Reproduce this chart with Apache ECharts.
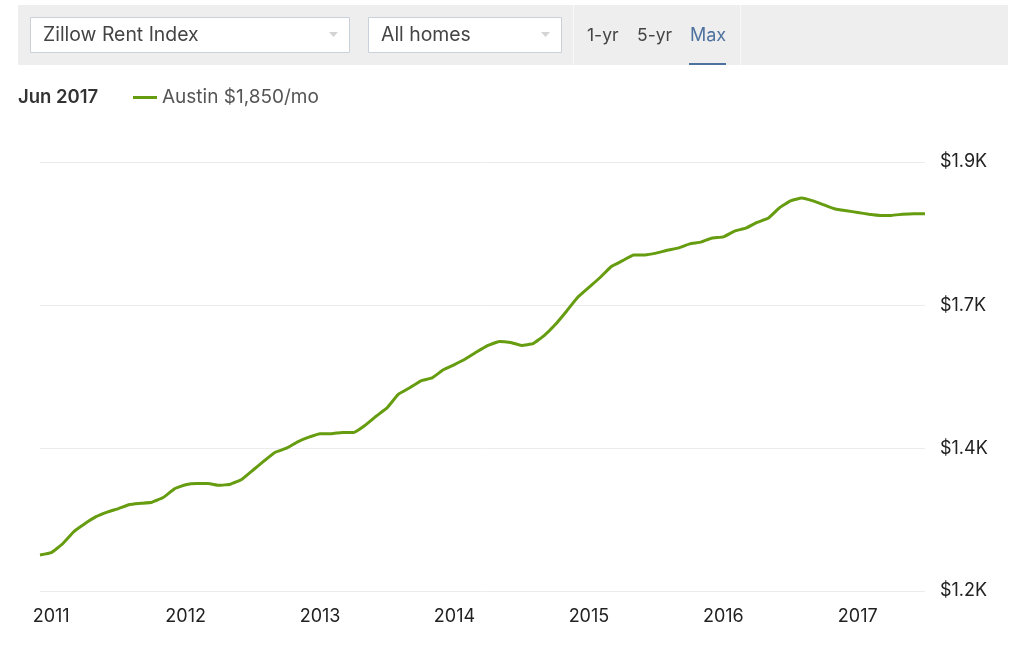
<!DOCTYPE html>
<html>
<head>
<meta charset="utf-8">
<title>Zillow Rent Index - Austin</title>
<script src="https://cdn.jsdelivr.net/npm/echarts@6/dist/echarts.min.js"></script>
<style>
    html, body { margin: 0; padding: 0; background: #fff; }
    #chart { width: 1024px; height: 652px; }
</style>
</head>
<body>
<div id="chart"></div>
<script>
// month-end dates, Nov 2010 .. Jun 2017
var months = [
    '2010-11', '2010-12',
    '2011-01', '2011-02', '2011-03', '2011-04', '2011-05', '2011-06', '2011-07', '2011-08', '2011-09', '2011-10', '2011-11', '2011-12',
    '2012-01', '2012-02', '2012-03', '2012-04', '2012-05', '2012-06', '2012-07', '2012-08', '2012-09', '2012-10', '2012-11', '2012-12',
    '2013-01', '2013-02', '2013-03', '2013-04', '2013-05', '2013-06', '2013-07', '2013-08', '2013-09', '2013-10', '2013-11', '2013-12',
    '2014-01', '2014-02', '2014-03', '2014-04', '2014-05', '2014-06', '2014-07', '2014-08', '2014-09', '2014-10', '2014-11', '2014-12',
    '2015-01', '2015-02', '2015-03', '2015-04', '2015-05', '2015-06', '2015-07', '2015-08', '2015-09', '2015-10', '2015-11', '2015-12',
    '2016-01', '2016-02', '2016-03', '2016-04', '2016-05', '2016-06', '2016-07', '2016-08', '2016-09', '2016-10', '2016-11', '2016-12',
    '2017-01', '2017-02', '2017-03', '2017-04', '2017-05', '2017-06'
];

// rent, $/mo
var austinRent = [
    1262, 1266,
    1281, 1302, 1316, 1328, 1336, 1342, 1349, 1351, 1353, 1361, 1376, 1383,
    1385, 1385, 1382, 1384, 1392, 1408, 1424, 1439, 1446, 1457, 1465, 1471,
    1471, 1473, 1473, 1485, 1501, 1516, 1539, 1550, 1562, 1567, 1581, 1590,
    1600, 1612, 1623, 1630, 1628, 1623, 1626, 1640, 1659, 1682, 1706, 1723,
    1740, 1759, 1769, 1779, 1779, 1782, 1787, 1791, 1798, 1801, 1808, 1810,
    1820, 1825, 1835, 1842, 1860, 1872, 1877, 1872, 1865, 1858, 1855, 1852,
    1849, 1847, 1847, 1849, 1850, 1850
];

var yearLabels = {
    '2010-12': '2011', '2011-12': '2012', '2012-12': '2013', '2013-12': '2014',
    '2014-12': '2015', '2015-12': '2016', '2016-12': '2017'
};

// the site rounds its tick labels to one decimal, so the steps are not round
var yTicks = [1200, 1446, 1692, 1939];

var seriesName = 'Austin';
var currentMonth = 'Jun 2017';
var metricLabel = 'Zillow Rent Index';
var homesLabel = 'All homes';
var rangeLabels = ['1-yr', '5-yr', 'Max'];

var FONT = 'Inter, sans-serif';
var GREEN = '#669c10';
var BLUE = '#4d729f';

function selectBox(x, w, label) {
    return [
        { type: 'rect', shape: { x: x + 0.5, y: 17.5, width: w, height: 35 },
          style: { fill: '#fff', stroke: '#c9d2da', lineWidth: 1 } },
        { type: 'text', x: x + 13, y: 35,
          style: { text: label, fill: '#444', font: '19.4px ' + FONT, textVerticalAlign: 'middle' } },
        { type: 'polygon', shape: { points: [[x + w - 20, 32], [x + w - 11, 32], [x + w - 15.5, 37]] },
          style: { fill: '#d4d4d4' } }
    ];
}

var chart = echarts.init(document.getElementById('chart'));

var toolbar = [
    { type: 'rect', shape: { x: 18, y: 5, width: 990, height: 60 }, style: { fill: '#eeeeee' } },
    { type: 'rect', shape: { x: 573, y: 5, width: 1, height: 60 }, style: { fill: '#f8f8f8' } },
    { type: 'rect', shape: { x: 740, y: 5, width: 1, height: 60 }, style: { fill: '#f8f8f8' } }
].concat(selectBox(30, 319, metricLabel), selectBox(368, 193, homesLabel), [
    { type: 'text', x: 587, y: 36, style: { text: rangeLabels[0], fill: '#444', font: '17.5px ' + FONT, textVerticalAlign: 'middle' } },
    { type: 'text', x: 637, y: 36, style: { text: rangeLabels[1], fill: '#444', font: '17.5px ' + FONT, textVerticalAlign: 'middle' } },
    { type: 'text', x: 690, y: 36, style: { text: rangeLabels[2], fill: BLUE, font: '18px ' + FONT, textVerticalAlign: 'middle' } },
    { type: 'rect', shape: { x: 689, y: 63, width: 37, height: 2 }, style: { fill: BLUE } }
]);

chart.setOption({
    animation: false,
    backgroundColor: '#fff',
    title: {
        text: currentMonth,
        left: 18, top: 88, padding: 0,
        textStyle: { fontFamily: FONT, fontSize: 18.5, fontWeight: 600, color: '#333' }
    },
    legend: {
        left: 133, top: 88, padding: 0,
        itemWidth: 24, itemHeight: 3, itemGap: 6,
        icon: 'rect',
        data: [seriesName],
        formatter: function (name) {
            return name + ' $' + austinRent[austinRent.length - 1].toLocaleString('en-US') + '/mo';
        },
        textStyle: { fontFamily: FONT, fontSize: 19, color: '#555', padding: [0, 0, 0, 0] }
    },
    grid: { left: 40, right: 99, top: 162, bottom: 61, containLabel: false },
    xAxis: {
        type: 'category',
        data: months,
        boundaryGap: false,
        axisLine: { show: false },
        axisTick: { show: false },
        splitLine: { show: false },
        axisLabel: {
            margin: 17,
            interval: function (i, value) { return value in yearLabels; },
            formatter: function (value) { return yearLabels[value] || ''; },
            fontFamily: FONT, fontSize: 18, color: '#222'
        }
    },
    yAxis: {
        type: 'value',
        position: 'right',
        min: yTicks[0],
        max: yTicks[yTicks.length - 1],
        axisLine: { show: false },
        axisTick: { show: false, customValues: yTicks },
        splitLine: { show: true, lineStyle: { color: '#ececec', width: 1 } },
        axisLabel: {
            margin: 15,
            customValues: yTicks,
            formatter: function (v) { return '$' + (v / 1000).toFixed(1) + 'K'; },
            fontFamily: FONT, fontSize: 18, color: '#222',
            padding: [3, 0, 0, 0]
        }
    },
    series: [{
        name: seriesName,
        type: 'line',
        data: austinRent,
        showSymbol: false,
        smooth: 0.1,
        itemStyle: { color: GREEN },
        lineStyle: { color: GREEN, width: 3 }
    }],
    graphic: toolbar
});
</script>
</body>
</html>
